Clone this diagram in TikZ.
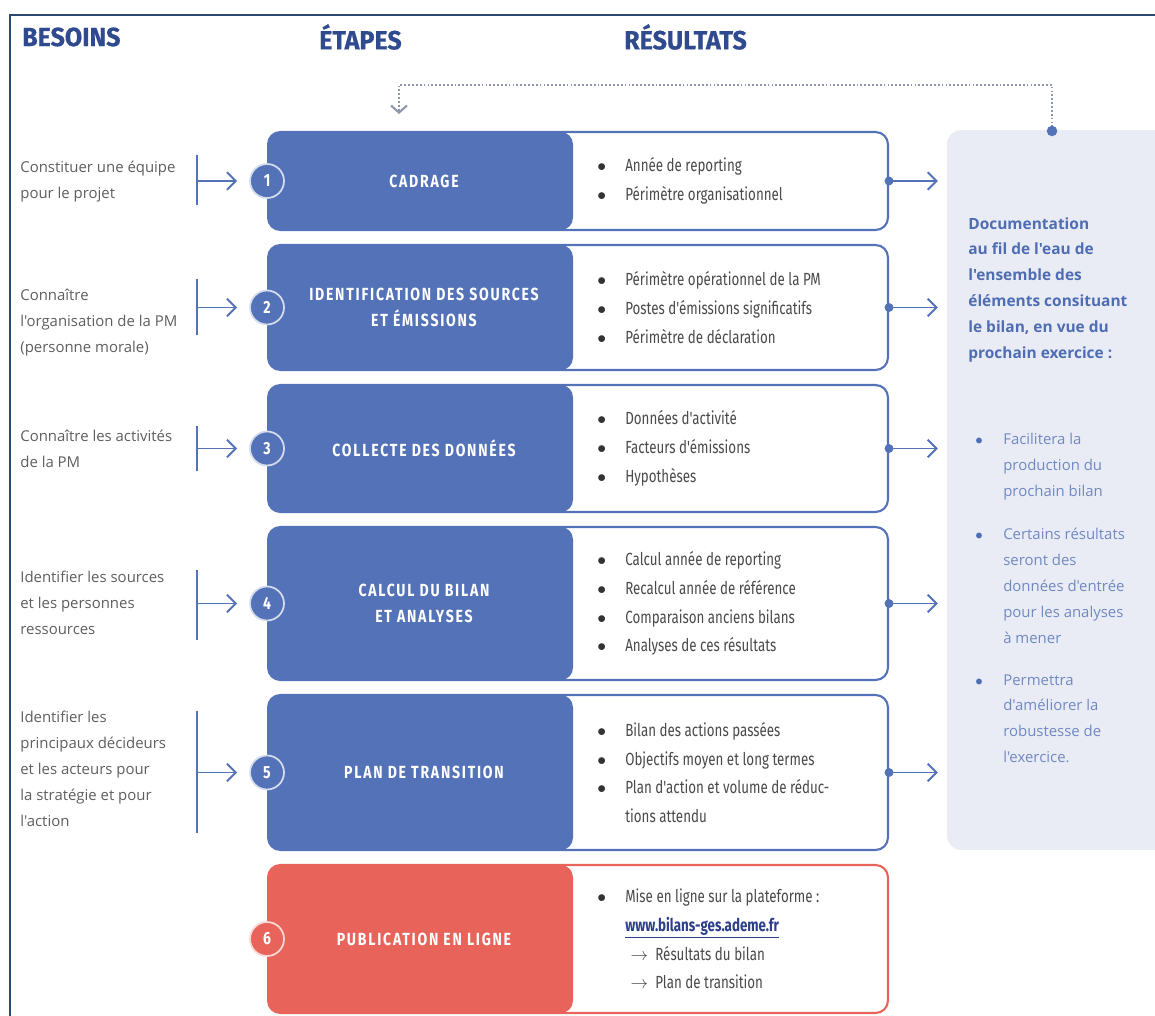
\documentclass[tikz,border=0pt]{standalone}
\usepackage{fontspec}
\setmainfont{Fira Sans}
\newfontfamily\headfont{Fira Sans}[BoldFeatures={FakeBold=0.6}, FakeStretch=0.95]
\newfontfamily\titlefont{Fira Sans}[FakeStretch=0.8, LetterSpace=10]
\newfontfamily\itemfont{Fira Sans}[FakeStretch=0.76]
\newfontfamily\needfont{Open Sans}
\usepackage{tikz}
\usetikzlibrary{arrows.meta, positioning, calc}

\definecolor{stepblue}{HTML}{5472B8}
\definecolor{stepred}{HTML}{E8645B}
\definecolor{headblue}{HTML}{2F4A8E}
\definecolor{framecol}{HTML}{2C4A6E}
\definecolor{panelfill}{HTML}{E9ECF5}
\definecolor{docblue}{HTML}{4F6DB3}
\definecolor{doctext}{HTML}{7189C2}
\definecolor{needgray}{HTML}{5E5E5E}
\definecolor{itemgray}{HTML}{4A4A4A}
\definecolor{dotgray}{HTML}{8D96AC}
\definecolor{linkblue}{HTML}{2B3F8A}

\newcommand{\itembul}{\makebox[15.9pt][l]{\color{black!80}$\bullet$}}
\newcommand{\docbul}{\makebox[15.9pt][l]{\color{docblue}$\bullet$}}

\begin{document}
\begin{tikzpicture}[
    x=0.02cm, y=-0.02cm,
    header/.style={anchor=west, text=headblue, font=\headfont\bfseries\fontsize{15}{17}\selectfont},
    rowbox/.style={draw=#1, fill=white, line width=1.2pt, rounded corners=7pt, minimum width=12.4cm,
        path picture={\fill[#1] (path picture bounding box.north west) rectangle ([xshift=6.1cm]path picture bounding box.south west);}},
    steptitle/.style={align=center, text=white, font=\titlefont\bfseries\fontsize{10}{15}\selectfont},
    numcirc/.style={circle, fill=#1, draw=white!75!#1, line width=1pt, minimum size=0.68cm, inner sep=0pt, text=white, font=\titlefont\bfseries\fontsize{10}{11}\selectfont},
    items/.style={anchor=west, align=left, inner sep=0pt, text=itemgray, font=\itemfont\fontsize{10}{16.4}\selectfont},
    needtext/.style={anchor=north west, align=left, inner sep=0pt, text=needgray, font=\needfont\fontsize{8.5}{14.7}\selectfont},
    doctxt/.style={anchor=north west, align=left, inner sep=0pt, text=doctext, font=\needfont\fontsize{8.5}{14.7}\selectfont},
    panel/.style={fill=panelfill, rounded corners=8pt, minimum width=4.56cm, minimum height=14.4cm},
    needbar/.style={draw=stepblue, line width=1.1pt},
    flow/.style={draw=stepblue, line width=1.1pt, -{Straight Barb[length=5pt, width=10pt]}},
    outflow/.style={flow, {Circle[length=5pt]}-{Straight Barb[length=5pt, width=10pt]}, shorten <=-2.5pt, shorten >=5pt},
    feedback/.style={draw=dotgray, line width=1.2pt, dash pattern=on 1pt off 1.2pt, -{Straight Barb[length=4pt, width=9pt]}}
]
\useasboundingbox (0,0) rectangle (1155,1016);
\clip (0,0) rectangle (1155,1016);

% frame
\draw[framecol, line width=1.5pt] (10,1020) -- (10,15) -- (1160,15);

% column titles
\node[header] (hd1) at (16,37) {BESOINS};
\node[header] (hd2) at (313,37) {ÉTAPES};
\node[header] (hd3) at (618,37) {RÉSULTATS};

% documentation panel
\node[panel] (doc) at (1061,490) {};
\node[doctxt, font=\needfont\bfseries\fontsize{8.8}{14.7}\selectfont, text=docblue] (dochead) at (968,217)
    {Documentation\\au fil de l'eau de\\l'ensemble des\\éléments consituant\\le bilan, en vue du\\prochain exercice :};
\node[doctxt] (doc1) at (975,433) {\docbul Facilitera la\\\hspace*{15.9pt}production du\\\hspace*{15.9pt}prochain bilan};
\node[doctxt] (doc2) at (975,528) {\docbul Certains résultats\\\hspace*{15.9pt}seront des\\\hspace*{15.9pt}données d'entrée\\\hspace*{15.9pt}pour les analyses\\\hspace*{15.9pt}à mener};
\node[doctxt] (doc3) at (975,674) {\docbul Permettra\\\hspace*{15.9pt}d'améliorer la\\\hspace*{15.9pt}robustesse de\\\hspace*{15.9pt}l'exercice.};

% steps
\node[rowbox=stepblue, minimum height=1.96cm] (row1) at (578,181) {};
\node[rowbox=stepblue, minimum height=2.5cm] (row2) at (578,307.5) {};
\node[rowbox=stepblue, minimum height=2.54cm] (row3) at (578,448.5) {};
\node[rowbox=stepblue, minimum height=3.06cm] (row4) at (578,603.5) {};
\node[rowbox=stepblue, minimum height=3.1cm] (row5) at (578,772.5) {};
\node[rowbox=stepred, minimum height=2.96cm] (row6) at (578,939) {};

\node[steptitle] (t1) at ([xshift=3.14cm]row1.west) {CADRAGE};
\node[steptitle] (t2) at ([xshift=3.14cm]row2.west) {IDENTIFICATION DES SOURCES\\ET ÉMISSIONS};
\node[steptitle] (t3) at ([xshift=3.14cm]row3.west) {COLLECTE DES DONNÉES};
\node[steptitle] (t4) at ([xshift=3.14cm]row4.west) {CALCUL DU BILAN\\ET ANALYSES};
\node[steptitle] (t5) at ([xshift=3.14cm]row5.west) {PLAN DE TRANSITION};
\node[steptitle] (t6) at ([xshift=3.14cm]row6.west) {PUBLICATION EN LIGNE};

\node[numcirc=stepblue] (n1) at (row1.west) {1};
\node[numcirc=stepblue] (n2) at (row2.west) {2};
\node[numcirc=stepblue] (n3) at (row3.west) {3};
\node[numcirc=stepblue] (n4) at (row4.west) {4};
\node[numcirc=stepblue] (n5) at (row5.west) {5};
\node[numcirc=stepred] (n6) at (row6.west) {6};

% results
\node[items] (r1) at ([xshift=0.38cm]row1.center) {\itembul Année de reporting\\\itembul Périmètre organisationnel};
\node[items] (r2) at ([xshift=0.38cm]row2.center) {\itembul Périmètre opérationnel de la PM\\\itembul Postes d'émissions significatifs\\\itembul Périmètre de déclaration};
\node[items] (r3) at ([xshift=0.38cm]row3.center) {\itembul Données d'activité\\\itembul Facteurs d'émissions\\\itembul Hypothèses};
\node[items] (r4) at ([xshift=0.38cm]row4.center) {\itembul Calcul année de reporting\\\itembul Recalcul année de référence\\\itembul Comparaison anciens bilans\\\itembul Analyses de ces résultats};
\node[items] (r5) at ([xshift=0.38cm]row5.center) {\itembul Bilan des actions passées\\\itembul Objectifs moyen et long termes\\\itembul Plan d'action et volume de réduc-\\\hspace*{15.9pt}tions attendu};
\node[items] (r6) at ([xshift=0.38cm]row6.center) {\itembul Mise en ligne sur la plateforme :\\\hspace*{15.9pt}{\color{linkblue}\bfseries\underline{www.bilans-ges.ademe.fr}}\\\hspace*{19pt}\makebox[14pt][l]{$\rightarrow$}Résultats du bilan\\\hspace*{19pt}\makebox[14pt][l]{$\rightarrow$}Plan de transition};

% needs
\node[needtext] (need1) at (20,161) {Constituer une équipe\\pour le projet};
\node[needtext] (need2) at (20,289) {Connaître\\l'organisation de la PM\\(personne morale)};
\node[needtext] (need3) at (20,430) {Connaître les activités\\de la PM};
\node[needtext] (need4) at (20,571) {Identifier les sources\\et les personnes\\ressources};
\node[needtext] (need5) at (20,711) {Identifier les\\principaux décideurs\\et les acteurs pour\\la stratégie et pour\\l'action};

\coordinate (b1) at ([xshift=-1.4cm]n1.center);
\coordinate (b2) at ([xshift=-1.4cm]n2.center);
\coordinate (b3) at ([xshift=-1.4cm]n3.center);
\coordinate (b4) at ([xshift=-1.4cm]n4.center);
\coordinate (b5) at ([xshift=-1.4cm]n5.center);

\draw[needbar] ($(b1)+(0,-26)$) -- ($(b1)+(0,24)$);
\draw[needbar] ($(b2)+(0,-28)$) -- ($(b2)+(0,28)$);
\draw[needbar] ($(b3)+(0,-23)$) -- ($(b3)+(0,22)$);
\draw[needbar] ($(b4)+(0,-34)$) -- ($(b4)+(0,36)$);
\draw[needbar] ($(b5)+(0,-62)$) -- ($(b5)+(0,60)$);

\draw[flow, shorten >=0.24cm] (b1) -- (n1.west);
\draw[flow, shorten >=0.24cm] (b2) -- (n2.west);
\draw[flow, shorten >=0.24cm] (b3) -- (n3.west);
\draw[flow, shorten >=0.24cm] (b4) -- (n4.west);
\draw[flow, shorten >=0.24cm] (b5) -- (n5.west);

% outputs to documentation
\draw[outflow] (row1.east) -- (row1.east -| doc.west);
\draw[outflow] (row2.east) -- (row2.east -| doc.west);
\draw[outflow] (row3.east) -- (row3.east -| doc.west);
\draw[outflow] (row4.east) -- (row4.east -| doc.west);
\draw[outflow] (row5.east) -- (row5.east -| doc.west);

% loop back
\coordinate (fb) at (1052,131);
\coordinate (fbend) at (399,114);
\draw[feedback] (fb) -- (1052,85) -| (fbend);
\fill[stepblue] (fb) circle (3pt);

\end{tikzpicture}
\end{document}
